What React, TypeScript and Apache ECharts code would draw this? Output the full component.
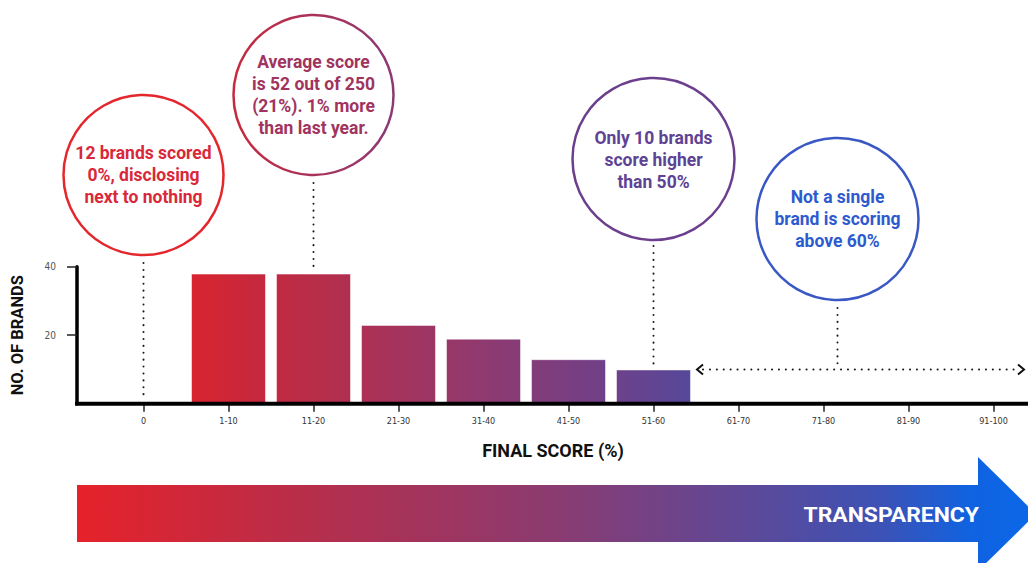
import React, { useEffect, useRef } from 'react';
import * as echarts from 'echarts';

const categories = ['0', '1-10', '11-20', '21-30', '31-40', '41-50', '51-60', '61-70', '71-80', '81-90', '91-100'];
const brandCounts = [0, 38, 38, 23, 19, 13, 10, 0, 0, 0, 0];
const yAxisMin = 0;
const yAxisMax = 40;
const yAxisStep = 20;
const yTickValues = [20, 40];
const noteZero = ['12 brands scored', '0%, disclosing', 'next to nothing'];
const noteAverage = ['Average score', 'is 52 out of 250', '(21%). 1% more', 'than last year.'];
const noteAbove50 = ['Only 10 brands', 'score higher', 'than 50%'];
const noteAbove60 = ['Not a single', 'brand is scoring', 'above 60%'];
const xTitle = 'FINAL SCORE (%)';
const yTitle = 'NO. OF BRANDS';
const arrowLabel = 'TRANSPARENCY';

export default function App() {
  const ref = useRef<HTMLDivElement>(null);

  useEffect(() => {
    document.body.style.margin = '0';
    const chart = echarts.init(ref.current as HTMLDivElement, undefined, { renderer: 'svg' });
    const W = 1028;
    const AXIS_X = 77;
    const GRID_LEFT = 101;
    const GRID_WIDTH = 935;
    const GRID_TOP = 266.7;
    const GRID_HEIGHT = 137;
    const BAR_W = 75;
    const FONT = 'Roboto, "Noto Sans", sans-serif';
    const SMALL_FONT = '"DejaVu Sans Condensed", "DejaVu Sans", sans-serif';

    chart.setOption({
      animation: false,
      grid: { left: GRID_LEFT, top: GRID_TOP, width: GRID_WIDTH, height: GRID_HEIGHT, outerBoundsMode: 'none' },
      xAxis: {
        type: 'category',
        data: categories,
        boundaryGap: true,
        axisLine: { show: false },
        axisTick: { show: true, alignWithLabel: true, length: 8, lineStyle: { color: '#222', width: 1.5 } },
        axisLabel: { interval: 0, fontSize: 9, color: '#333', margin: 13, fontFamily: SMALL_FONT },
        splitLine: { show: false },
        name: xTitle,
        nameLocation: 'middle',
        nameGap: 38,
        nameTextStyle: { fontSize: 18, fontWeight: 'bold', color: '#111', fontFamily: FONT, padding: [0, 31, 0, 0] },
      },
      yAxis: {
        type: 'value',
        min: yAxisMin,
        max: yAxisMax,
        interval: yAxisStep,
        offset: GRID_LEFT - AXIS_X,
        axisLine: { show: true, lineStyle: { color: '#000', width: 3.5 } },
        axisTick: { show: true, length: 10, lineStyle: { color: '#222', width: 1.5 }, customValues: yTickValues },
        axisLabel: {
          fontSize: 10,
          color: '#555',
          margin: 21,
          fontFamily: SMALL_FONT,
          customValues: yTickValues,
          formatter: (v: number) => (v === 0 ? '' : String(v)),
        },
        splitLine: { show: false },
        name: yTitle,
        nameLocation: 'middle',
        nameRotate: 90,
        nameGap: 51,
        nameTextStyle: { fontSize: 16.5, fontWeight: 'bold', color: '#111', fontFamily: FONT },
      },
      series: [
        {
          type: 'bar',
          data: brandCounts,
          barWidth: BAR_W,
          itemStyle: { color: '#a0335c', borderColor: 'rgba(255,255,255,0.5)', borderWidth: 1 },
        },
      ],
    });

    const px = (i: number) => chart.convertToPixel({ xAxisIndex: 0 }, i) as number;
    const py = (v: number) => chart.convertToPixel({ yAxisIndex: 0 }, v) as number;

    const barLeft = px(1) - BAR_W / 2;
    const barRight = px(6) + BAR_W / 2;
    const barGradient = new echarts.graphic.LinearGradient(
      barLeft, 0, barRight, 0,
      [
        { offset: 0, color: '#d92430' },
        { offset: 0.2, color: '#bd2b44' },
        { offset: 0.4, color: '#a6335b' },
        { offset: 0.6, color: '#8d3a71' },
        { offset: 0.8, color: '#743f85' },
        { offset: 1, color: '#56489a' },
      ],
      true
    );

    const arrowRight = 1036;
    const arrowGradient = new echarts.graphic.LinearGradient(
      AXIS_X, 0, arrowRight, 0,
      [
        { offset: 0, color: '#e6222a' },
        { offset: 0.24, color: '#b72e4b' },
        { offset: 0.5, color: '#8a3b71' },
        { offset: 0.72, color: '#584a9c' },
        { offset: 0.84, color: '#3c52b6' },
        { offset: 0.93, color: '#1062e0' },
        { offset: 1, color: '#0a68e8' },
      ],
      true
    );

    const y0 = py(0);
    const dotted = { stroke: '#1a1a1a', lineWidth: 2, lineDash: [0.1, 6.8], lineCap: 'round' };

    const c1 = { x: px(0), y: 175, r: 80 };
    const c2 = { x: px(2), y: 95, r: 80 };
    const c3 = { x: px(6), y: 159, r: 81 };
    const c4 = { x: px(8) + 14, y: 219, r: 81 };

    const yH = py(brandCounts[6]);
    const hLeft = barRight + 6;
    const hRight = W - 4;

    const textStyle = (lines: string[], fill: string) => ({
      text: lines.join('\n'),
      align: 'center',
      verticalAlign: 'middle',
      fontSize: 17.5,
      lineHeight: 22,
      fontWeight: 'bold',
      fontFamily: FONT,
      fill,
    });

    const circle2Stroke = new echarts.graphic.LinearGradient(0, 0, 1, 0, [
      { offset: 0, color: '#c62a3e' },
      { offset: 1, color: '#8c3a76' },
    ]);

    const elements: any[] = [
      // x axis line
      { type: 'line', z: 10, shape: { x1: AXIS_X - 2, y1: y0, x2: W, y2: y0 }, style: { stroke: '#000', lineWidth: 4 } },
      // dotted connectors
      { type: 'line', z: 5, shape: { x1: c1.x, y1: c1.y + c1.r + 8, x2: c1.x, y2: y0 - 5 }, style: dotted },
      { type: 'line', z: 5, shape: { x1: c2.x, y1: c2.y + c2.r + 8, x2: c2.x, y2: py(brandCounts[2]) - 2 }, style: dotted },
      { type: 'line', z: 5, shape: { x1: c3.x, y1: c3.y + c3.r + 6, x2: c3.x, y2: py(brandCounts[6]) - 4 }, style: dotted },
      { type: 'line', z: 5, shape: { x1: c4.x, y1: c4.y + c4.r + 8, x2: c4.x, y2: yH }, style: dotted },
      { type: 'line', z: 5, shape: { x1: hLeft + 6, y1: yH, x2: hRight - 6, y2: yH }, style: dotted },
      { type: 'polyline', z: 5, shape: { points: [[hLeft + 6, yH - 5], [hLeft, yH], [hLeft + 6, yH + 5]] }, style: { stroke: '#111', lineWidth: 2, fill: 'none' } },
      { type: 'polyline', z: 5, shape: { points: [[hRight - 6, yH - 5], [hRight, yH], [hRight - 6, yH + 5]] }, style: { stroke: '#111', lineWidth: 2, fill: 'none' } },
      // circles
      { type: 'circle', shape: { cx: c1.x, cy: c1.y, r: c1.r }, style: { fill: 'none', stroke: '#e4262d', lineWidth: 2.5 } },
      { type: 'circle', shape: { cx: c2.x, cy: c2.y, r: c2.r }, style: { fill: 'none', stroke: circle2Stroke, lineWidth: 2.5 } },
      { type: 'circle', shape: { cx: c3.x, cy: c3.y, r: c3.r }, style: { fill: 'none', stroke: '#6c3f8e', lineWidth: 2.5 } },
      { type: 'circle', shape: { cx: c4.x, cy: c4.y, r: c4.r }, style: { fill: 'none', stroke: '#3a58c4', lineWidth: 2.5 } },
      { type: 'text', x: c1.x, y: c1.y, style: textStyle(noteZero, '#d8283a') },
      { type: 'text', x: c2.x, y: c2.y, style: textStyle(noteAverage, '#a0345f') },
      { type: 'text', x: c3.x, y: c3.y + 1, style: textStyle(noteAbove50, '#5e4395') },
      { type: 'text', x: c4.x, y: c4.y, style: textStyle(noteAbove60, '#2e5ad0') },
      // transparency arrow
      { type: 'rect', shape: { x: AXIS_X, y: 485, width: 979 - AXIS_X, height: 57 }, style: { fill: arrowGradient } },
      { type: 'polygon', shape: { points: [[978, 457], [arrowRight, 514], [978, 571]] }, style: { fill: arrowGradient } },
      {
        type: 'text',
        x: 979,
        y: 515,
        scaleX: 1.09,
        z: 20,
        style: { text: arrowLabel, align: 'right', verticalAlign: 'middle', fontSize: 21, fontWeight: 'bold', fontFamily: FONT, fill: '#ffffff' },
      },
    ];

    chart.setOption({
      series: [{ itemStyle: { color: barGradient } }],
      graphic: { elements },
    });

    return () => chart.dispose();
  }, []);

  return <div ref={ref} style={{ width: 1028, height: 563 }} />;
}
